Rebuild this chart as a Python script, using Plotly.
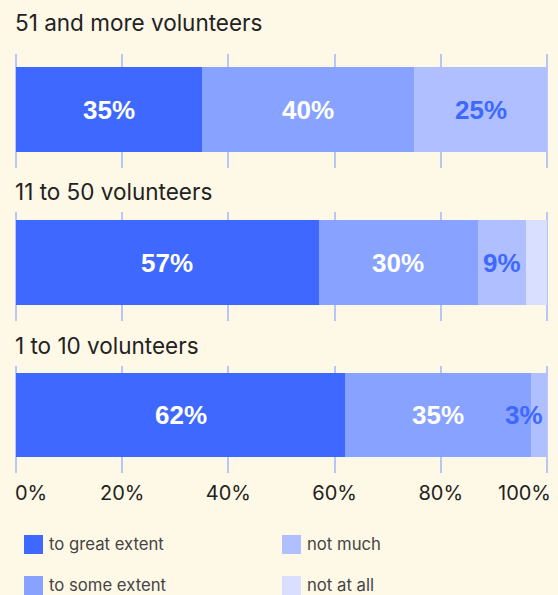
import plotly.graph_objects as go

# ---------------- data ----------------
groups = ["51 and more volunteers", "11 to 50 volunteers", "1 to 10 volunteers"]
series_names = ["to great extent", "to some extent", "not much", "not at all"]
great_extent = [35, 57, 62]
some_extent = [40, 30, 35]
not_much = [25, 9, 3]
not_at_all = [0, 4, 0]
tick_vals = [0, 20, 40, 60, 80, 100]
tick_labels = ["0%", "20%", "40%", "60%", "80%", "100%"]

series_values = [great_extent, some_extent, not_much, not_at_all]
show_labels = [True, True, True, False]

# ---------------- style ----------------
colors = ["#3e68ff", "#88a3ff", "#afbfff", "#d9dfff"]
label_colors = ["#ffffff", "#ffffff", "#3e68ff", "#3e68ff"]
bg = "#fef8e7"
grid = "#b9c7f7"
W, H = 558, 595
FONT = "Inter"
LABEL_FONT = "Liberation Sans"
ML, MR = 8, 3
PPU = 5.31  # px per percent
x_lo = -(16 - ML) / PPU
x_hi = 100 + ((W - MR) - 547) / PPU
PW = W - ML - MR

dom_px = [(54, 168), (212, 321), (366, 473)]
bar_px = [(67, 152), (220, 305), (373, 457)]
title_px = [23, 192, 345]


def py(px):
    return 1 - px / H


def pxx(px):
    return (px - ML) / PW


fig = go.Figure()
annotations = []

for gi, g in enumerate(groups):
    ax = "" if gi == 0 else str(gi + 1)
    for si, name in enumerate(series_names):
        fig.add_trace(go.Bar(
            x=[series_values[si][gi]], y=[0], orientation="h",
            width=1, name=name, showlegend=False,
            marker=dict(color=colors[si], line=dict(width=0)),
            xaxis="x" + ax, yaxis="y" + ax, hoverinfo="skip",
        ))
    # segment labels
    cum = 0
    for si in range(len(series_names)):
        v = series_values[si][gi]
        if v > 0 and show_labels[si]:
            center = cum + v / 2
            if center > 96:
                xa, xx, xs = "right", cum + v, -2
            else:
                xa, xx, xs = "center", center, 0
            annotations.append(dict(
                x=xx, y=0, xref="x" + ax, yref="y" + ax, text=f"{v}%",
                showarrow=False, xanchor=xa, xshift=xs,
                font=dict(family=LABEL_FONT, size=26, color=label_colors[si], weight="bold"),
            ))
        cum += v
    # axis layout
    top, bot = dom_px[gi]
    btop, bbot = bar_px[gi]
    ppu = bbot - btop
    yr = [-0.5 - (bot - bbot) / ppu, 0.5 + (btop - top) / ppu]
    last = gi == len(groups) - 1
    fig.layout["xaxis" + ax] = dict(
        range=[x_lo, x_hi], domain=[0, 1], anchor="y" + ax,
        tickvals=tick_vals,
        ticktext=["" if (i == 0 or i == len(tick_vals) - 1) else t for i, t in enumerate(tick_labels)] if last else None,
        showticklabels=last, showgrid=True, gridcolor=grid, gridwidth=1.5,
        zeroline=False, showline=False, ticks="", fixedrange=True,
        tickfont=dict(family=FONT, size=20, color="#222222"),
        ticklabelstandoff=6,
    )
    fig.layout["yaxis" + ax] = dict(
        range=yr, domain=[py(bot), py(top)], anchor="x" + ax,
        showgrid=False, zeroline=False, showticklabels=False, showline=False, fixedrange=True,
    )
    annotations.append(dict(
        x=pxx(16), y=py(title_px[gi]), xref="paper", yref="paper", text=g, showarrow=False,
        xanchor="left", yanchor="middle", xshift=-3,
        font=dict(family=FONT, size=22.5, color="#222222"),
    ))

# end tick labels kept inside the plot area
annotations.append(dict(x=tick_vals[0], y=py(493), xref="x3", yref="paper", text=tick_labels[0],
                        showarrow=False, xanchor="left", yanchor="middle", xshift=-3,
                        font=dict(family=FONT, size=20, color="#222222")))
annotations.append(dict(x=tick_vals[-1], y=py(493), xref="x3", yref="paper", text=tick_labels[-1],
                        showarrow=False, xanchor="right", yanchor="middle", xshift=6,
                        font=dict(family=FONT, size=20, color="#222222")))

# legend (two columns)
shapes = []
leg_pos = [(24, 544.5), (24, 585.5), (282, 544.5), (282, 585.5)]  # px: left, center-y
for si in range(len(series_names)):
    lx, cy = leg_pos[si]
    shapes.append(dict(type="rect", xref="paper", yref="paper",
                       x0=pxx(lx), x1=pxx(lx + 19),
                       y0=py(cy + 9.5), y1=py(cy - 9.5),
                       fillcolor=colors[si], line=dict(width=0), layer="above"))
    annotations.append(dict(x=pxx(lx + 23), y=py(cy - 1), xref="paper", yref="paper",
                            text=series_names[si], showarrow=False, xanchor="left", yanchor="middle",
                            font=dict(family=FONT, size=16.7, color="#444444")))

fig.update_layout(
    width=W, height=H, barmode="stack", bargap=0,
    margin=dict(l=ML, r=MR, t=0, b=0),
    paper_bgcolor=bg, plot_bgcolor=bg,
    annotations=annotations, shapes=shapes, showlegend=False,
)

fig.write_html("out.html")
